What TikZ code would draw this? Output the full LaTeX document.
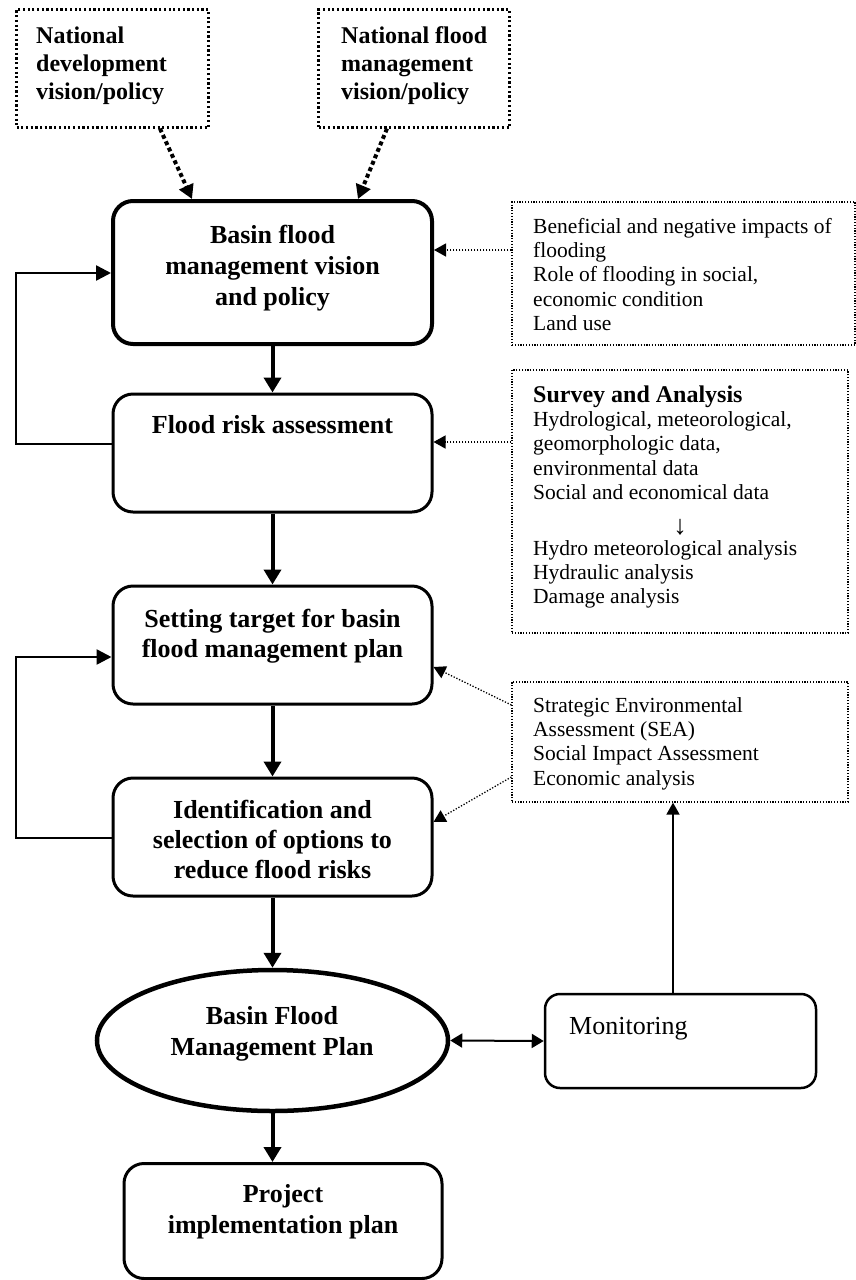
\documentclass[tikz,border=0pt]{standalone}
\usepackage{fontspec}
\setmainfont{Liberation Serif}
\usetikzlibrary{arrows.meta,shapes.geometric}
\begin{document}
\begin{tikzpicture}[x=1pt,y=-1pt,
  mainbox/.style={draw, rounded corners=20pt, line width=3pt, inner sep=0pt, minimum width=319pt},
  topbox/.style={draw, line width=2.2pt, dash pattern=on 2.2pt off 2.5pt, inner sep=0pt},
  sidebox/.style={draw, line width=1.2pt, dash pattern=on 1.2pt off 1.6pt, inner sep=0pt},
  maintxt/.style={font=\fontsize{26}{30}\selectfont\bfseries, align=center, inner sep=0pt, anchor=north},
  toptxt/.style={font=\fontsize{24}{28}\selectfont\bfseries, align=left, inner sep=0pt, anchor=north west},
  sidetxt/.style={font=\fontsize{21.5}{24.3}\selectfont, align=left, inner sep=0pt, anchor=north west},
  thickarrow/.style={line width=4pt, -{Triangle[length=15pt,width=17pt]}},
  fbarrow/.style={line width=2.5pt, -{Triangle[length=15pt,width=15pt]}},
  dotarrow/.style={line width=1.3pt, dash pattern=on 1.3pt off 1.7pt, -{Triangle[length=12pt,width=13pt]}},
  bigdotarrow/.style={line width=4pt, dash pattern=on 4pt off 3pt, -{Triangle[length=14pt,width=15pt]}},
  thinarrow/.style={line width=1.6pt, -{Triangle[length=12pt,width=13pt]}},
  twoarrow/.style={line width=2pt, {Triangle[length=12pt,width=14pt]}-{Triangle[length=12pt,width=14pt]}}
]
\useasboundingbox (0,0) rectangle (856,1280);

% top dotted boxes
\node[topbox, minimum width=192pt, minimum height=118pt] (t1) at (112.5,68.5) {};
\node[topbox, minimum width=191pt, minimum height=118pt] (t2) at (414,68.5) {};
\node[toptxt] (t1txt) at (36,23.4) {\strut National\\development\\vision/policy};
\node[toptxt] (t2txt) at (341,23.4) {\strut National flood\\management\\vision/policy};

% main boxes
\node[mainbox, line width=4pt, minimum height=143pt] (b1) at (272.5,272.5) {};
\node[mainbox, minimum height=118pt] (b2) at (272.5,453) {};
\node[mainbox, minimum height=118pt] (b3) at (272.5,645) {};
\node[mainbox, minimum height=118pt] (b4) at (272.5,837) {};
\node[draw, ellipse, line width=4.5pt, minimum width=351pt, minimum height=141pt, inner sep=0pt] (bfmp) at (272.5,1040.5) {};
\node[mainbox, line width=2.5pt, rounded corners=15pt, minimum width=271pt, minimum height=94pt] (mon) at (680.5,1041) {};
\node[mainbox, minimum width=318pt, minimum height=115pt] (proj) at (283,1221) {};

\node[maintxt, font=\fontsize{26}{31}\selectfont\bfseries] (b1txt) at (272.5,221.3) {\strut Basin flood\\management vision\\and policy};
\node[maintxt] (b2txt) at (272.5,412) {\strut Flood risk assessment};
\node[maintxt] (b3txt) at (272.5,606) {\strut Setting target for basin\\flood management plan};
\node[maintxt] (b4txt) at (272.5,797) {\strut Identification and\\selection of options to\\reduce flood risks};
\node[maintxt, font=\fontsize{26}{31}\selectfont\bfseries] (bfmptxt) at (272,1002.3) {\strut Basin Flood\\Management Plan};
\node[maintxt, font=\fontsize{26}{31}\selectfont\bfseries] (projtxt) at (283,1180.3) {\strut Project\\implementation plan};
\node[font=\fontsize{26}{30}\selectfont, inner sep=0pt, anchor=base west] (montxt) at (569,1034) {Monitoring};

% side dotted boxes
\node[sidebox, minimum width=343pt, minimum height=143pt] (sa) at (683.5,273.5) {};
\node[sidebox, minimum width=336pt, minimum height=263pt] (sb) at (680,501.5) {};
\node[sidebox, minimum width=336pt, minimum height=120pt] (sc) at (680,742) {};
\node[sidetxt] (satxt) at (533,216) {\strut Beneficial and negative impacts of\\flooding\\Role of flooding in social,\\economic condition\\Land use};
\node[sidetxt] (sbtxt) at (533,385) {\strut{\fontsize{24}{24.3}\selectfont\bfseries Survey and Analysis}\\Hydrological, meteorological,\\geomorphologic data,\\environmental data\\Social and economical data};
\node[font=\fontsize{27}{28}\selectfont, inner sep=0pt] (sbarrow) at (680,527) {↓};
\node[sidetxt] (sbtxt2) at (533,538) {\strut Hydro meteorological analysis\\Hydraulic analysis\\Damage analysis};
\node[sidetxt] (sctxt) at (533,695) {\strut Strategic Environmental\\Assessment (SEA)\\Social Impact Assessment\\Economic analysis};

% helper coordinates
\coordinate (k1) at (16,444);
\coordinate (k2) at (16,273);
\coordinate (k3) at (16,838);
\coordinate (k4) at (16,657);
\coordinate (ya) at (0,250);
\coordinate (yb) at (0,442);
\coordinate (yc1) at (0,705);
\coordinate (yc2) at (0,667);
\coordinate (yd1) at (0,777);
\coordinate (yd2) at (0,822);
\coordinate (xa1) at (160,0);
\coordinate (xa2) at (192,0);
\coordinate (xb1) at (387,0);
\coordinate (xb2) at (358,0);
\coordinate (xm) at (673,0);

% connectors
\draw[bigdotarrow] (t1.south -| xa1) -- (b1.north -| xa2);
\draw[bigdotarrow] (t2.south -| xb1) -- (b1.north -| xb2);
\draw[thickarrow] (b1.south) -- (b2.north);
\draw[thickarrow] (b2.south) -- (b3.north);
\draw[thickarrow] (b3.south) -- (b4.north);
\draw[thickarrow] (b4.south) -- (bfmp.north);
\draw[thickarrow] (bfmp.south) -- (bfmp.south |- proj.north);
\draw[fbarrow] (b2.west |- k1) -- (k1) -- (k2) -- (b1.west |- k2);
\draw[fbarrow] (b4.west |- k3) -- (k3) -- (k4) -- (b3.west |- k4);
\draw[dotarrow] (sa.west |- ya) -- (b1.east |- ya);
\draw[dotarrow] (sb.west |- yb) -- (b2.east |- yb);
\draw[dotarrow] (sc.west |- yc1) -- (b3.east |- yc2);
\draw[dotarrow] (sc.west |- yd1) -- (b4.east |- yd2);
\draw[twoarrow] (bfmp.east) -- (mon.west);
\draw[thinarrow] (mon.north -| xm) -- (sc.south -| xm);
\end{tikzpicture}
\end{document}
